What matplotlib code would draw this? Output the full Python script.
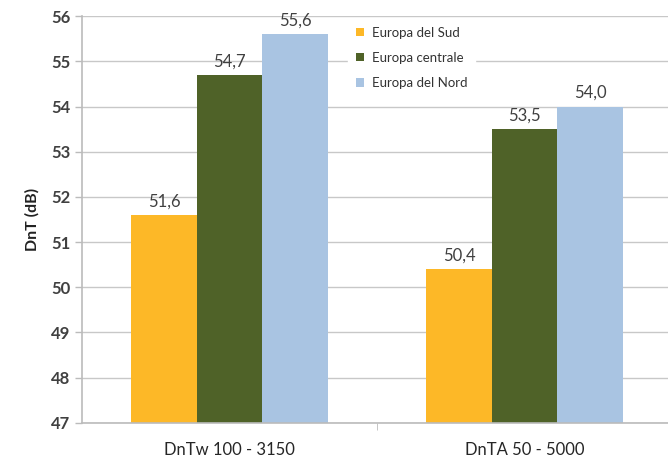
import matplotlib
matplotlib.use("Agg")
import matplotlib.pyplot as plt
import numpy as np

categories = ["DnTw 100 - 3150", "DnTA 50 - 5000"]
series = ["Europa del Sud", "Europa centrale", "Europa del Nord"]
values = {
    "Europa del Sud": [51.6, 50.4],
    "Europa centrale": [54.7, 53.5],
    "Europa del Nord": [55.6, 54.0],
}
colors = ["#FDB827", "#4F6228", "#A9C4E2"]
yticks = list(range(47, 57))

plt.rcParams['font.family'] = ['Lato', 'DejaVu Sans']

fig = plt.figure(figsize=(6.68, 4.62), dpi=100)
ax = fig.add_axes([0.123, 0.085, 0.883, 0.88])

x = np.arange(len(categories))
w = 0.222
for i, name in enumerate(series):
    pos = x + (i - 1) * w
    bars = ax.bar(pos, values[name], w, bottom=0, color=colors[i], label=name, zorder=2)
    for b, v in zip(bars, values[name]):
        ax.text(b.get_x() + b.get_width() / 2, v + 0.12, f"{v:.1f}".replace(".", ","),
                ha="center", va="bottom", fontsize=12, color="#404040")

ax.set_ylim(47, 56)
ax.set_xlim(-0.5, 1.5)
ax.set_yticks(yticks)
ax.set_yticklabels([str(t) for t in yticks], fontsize=12, fontweight="bold", color="#404040")
ax.set_xticks(x)
ax.set_xticklabels(categories, fontsize=12, color="#262626")
ax.set_xticks([0.5], minor=True)
ax.tick_params(axis="x", which="major", length=0, pad=14)
ax.tick_params(axis="x", which="minor", length=5, color="#bbbbbb")
ax.tick_params(axis="y", length=5, color="#bbbbbb", width=1)
ax.set_ylabel("DnT (dB)", fontsize=11.5, fontweight="bold", color="#222222", labelpad=8)

ax.grid(axis="y", color="#c8c8c8", linewidth=1, zorder=0)
for s in ["top", "right"]:
    ax.spines[s].set_visible(False)
for s in ["left", "bottom"]:
    ax.spines[s].set_color("#bbbbbb")
    ax.spines[s].set_linewidth(1.2)

leg = ax.legend(loc="upper left", bbox_to_anchor=(0.44, 1.01), frameon=True,
                fontsize=9.5, handlelength=0.6, handleheight=0.6, borderpad=0.6,
                labelspacing=1.0, handletextpad=0.6, fancybox=False)
leg.get_frame().set_edgecolor("white")
leg.get_frame().set_facecolor("white")
leg.get_frame().set_alpha(1)
for t in leg.get_texts():
    t.set_color("#333333")

fig.savefig("out.png", dpi=100)
